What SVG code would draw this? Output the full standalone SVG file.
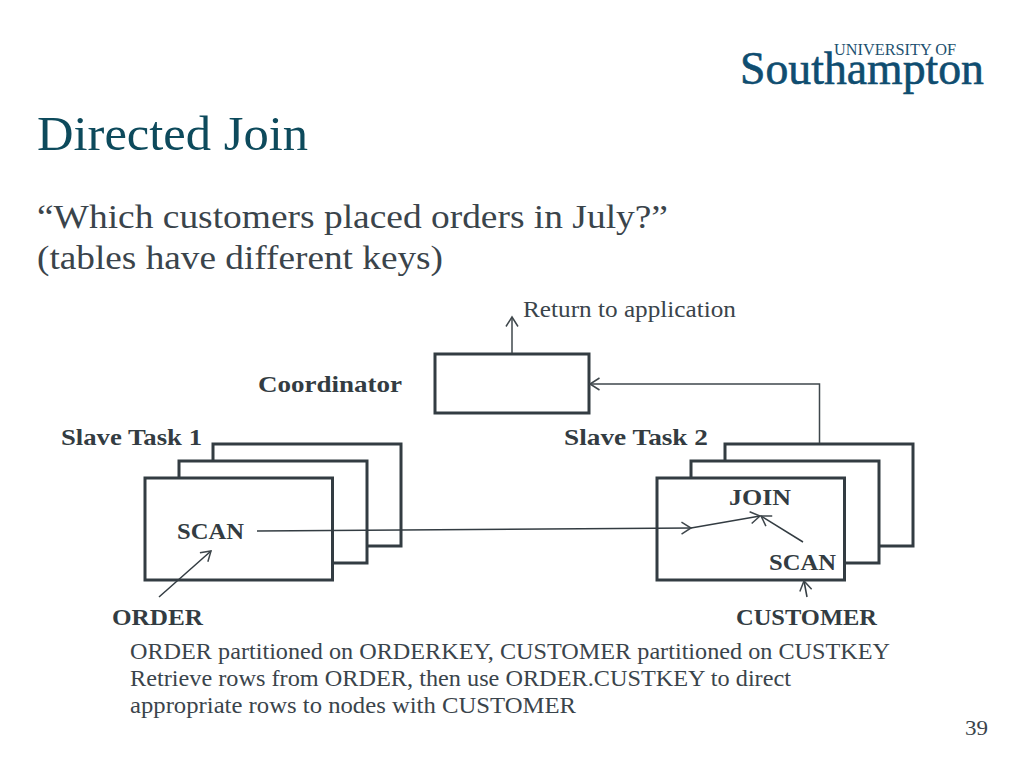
<svg xmlns="http://www.w3.org/2000/svg" width="1024" height="768" viewBox="0 0 1024 768">
<style>
text{font-family:"Liberation Serif","Times New Roman",serif;fill:#3a444b}
.box{fill:#fff;stroke:#333c42;stroke-width:3}
.conn{fill:none;stroke:#3f474c;stroke-width:1.5}
.thin{fill:none;stroke:#333c42;stroke-width:1.5}
.b{font-weight:bold;font-size:24px;fill:#333c42}
.body{font-size:23.5px}
.head{font-size:33.5px}
</style>
<defs>
<marker id="arrow" markerUnits="userSpaceOnUse" markerWidth="16" markerHeight="16" refX="11" refY="8" orient="auto">
<path d="M1.500 2L11 8L1.500 14" fill="none" stroke="#3f474c" stroke-width="1.5"/>
</marker>
</defs>
<rect width="1024" height="768" fill="#fff"/>
<g id="logo">
<text x="834" y="54.500" font-size="17" textLength="122" lengthAdjust="spacingAndGlyphs" style="fill:#1d5170">UNIVERSITY OF</text>
<text x="740" y="84" font-size="46" textLength="244" lengthAdjust="spacingAndGlyphs" style="fill:#0f4d70;stroke:#0f4d70;stroke-width:.6">Southampton</text>
</g>
<text id="title" x="37" y="150" font-size="48" textLength="271" lengthAdjust="spacingAndGlyphs" style="fill:#0d4a5c">Directed Join</text>
<text class="head" x="37" y="228" textLength="631" lengthAdjust="spacingAndGlyphs">“Which customers placed orders in July?”</text>
<text class="head" x="37" y="269" textLength="406" lengthAdjust="spacingAndGlyphs">(tables have different keys)</text>
<g id="task1">
<rect class="box" x="213" y="444" width="188" height="102"/>
<rect class="box" x="179" y="461" width="188" height="102"/>
<rect class="box" x="145" y="478" width="187.500" height="102"/>
<text class="b" x="61" y="445" textLength="141" lengthAdjust="spacingAndGlyphs">Slave Task 1</text>
<text class="b" x="177" y="539" textLength="67" lengthAdjust="spacingAndGlyphs">SCAN</text>
</g>
<g id="task2">
<rect class="box" x="725" y="444" width="188" height="102"/>
<rect class="box" x="691" y="461" width="188" height="102"/>
<rect class="box" x="657" y="478" width="187.500" height="102"/>
<text class="b" x="564" y="445" textLength="144" lengthAdjust="spacingAndGlyphs">Slave Task 2</text>
<text class="b" x="729" y="505" textLength="62" lengthAdjust="spacingAndGlyphs">JOIN</text>
<text class="b" x="769" y="570" textLength="67" lengthAdjust="spacingAndGlyphs">SCAN</text>
</g>
<g id="coordinator">
<rect class="box" x="435" y="354" width="154" height="59"/>
<text class="b" x="258" y="392" textLength="144" lengthAdjust="spacingAndGlyphs">Coordinator</text>
</g>
<g id="connectors">
<path class="conn" d="M512 353V317" marker-end="url(#arrow)"/>
<path class="conn" d="M819.500 443V384H590" marker-end="url(#arrow)"/>
<path class="thin" d="M257 531L691 528" marker-end="url(#arrow)"/>
<path class="thin" d="M691 528L760 516" marker-end="url(#arrow)"/>
<path class="thin" d="M803 542L761 516" marker-end="url(#arrow)"/>
<path class="thin" d="M159 597L211 551" marker-end="url(#arrow)"/>
<path class="thin" d="M807 597L804 581" marker-end="url(#arrow)"/>
</g>
<text class="body" x="523" y="317" textLength="213" lengthAdjust="spacingAndGlyphs">Return to application</text>
<text class="b" x="112" y="625" textLength="91" lengthAdjust="spacingAndGlyphs">ORDER</text>
<text class="b" x="736" y="625" textLength="141" lengthAdjust="spacingAndGlyphs">CUSTOMER</text>
<text class="body" x="130" y="659" textLength="760" lengthAdjust="spacingAndGlyphs">ORDER partitioned on ORDERKEY, CUSTOMER partitioned on CUSTKEY</text>
<text class="body" x="130" y="686" textLength="661" lengthAdjust="spacingAndGlyphs">Retrieve rows from ORDER, then use ORDER.CUSTKEY to direct</text>
<text class="body" x="130" y="713" textLength="446" lengthAdjust="spacingAndGlyphs">appropriate rows to nodes with CUSTOMER</text>
<text x="965" y="735" font-size="21" textLength="23" lengthAdjust="spacingAndGlyphs">39</text>
</svg>
